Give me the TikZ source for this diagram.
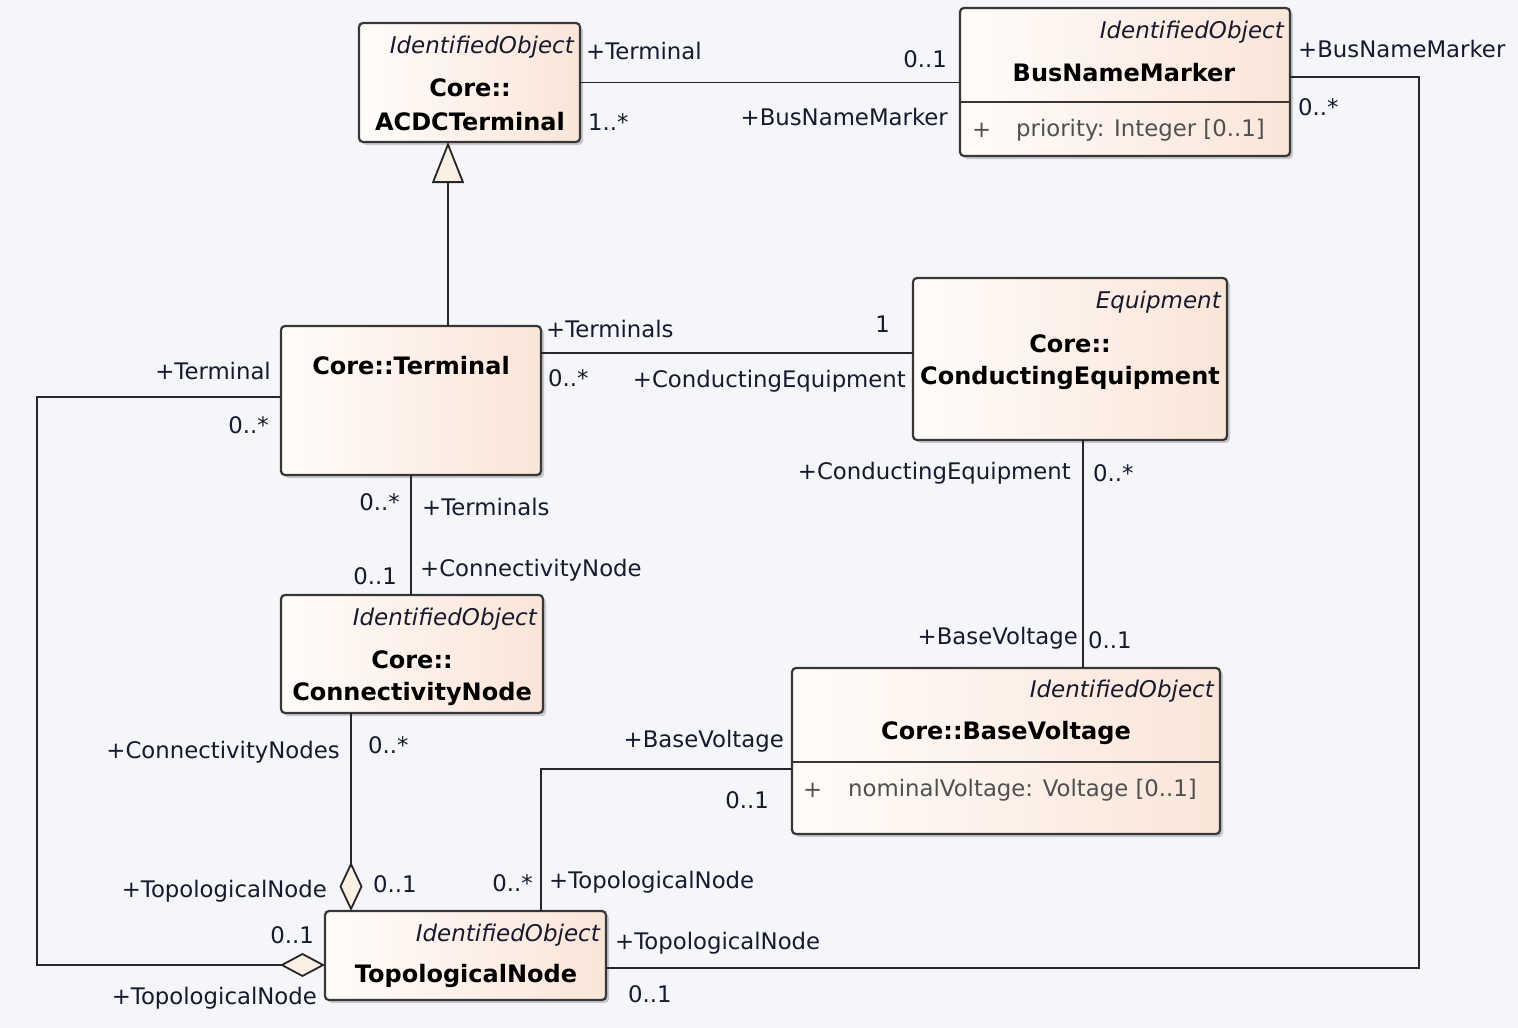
\documentclass[tikz,border=0pt]{standalone}
\usepackage{fontspec}
\setmainfont{DejaVu Sans}
\usetikzlibrary{arrows.meta,shadows,positioning}
\definecolor{bgcol}{RGB}{244,246,250}
\definecolor{boxl}{RGB}{255,252,250}
\definecolor{boxr}{RGB}{250,229,216}
\definecolor{tipfill}{RGB}{252,240,228}
\definecolor{edgecol}{RGB}{55,55,55}
\definecolor{txtcol}{RGB}{25,25,45}
\definecolor{attrcol}{RGB}{80,80,80}
\newcommand{\lblsize}{\fontsize{22.8}{26}\selectfont}
\newcommand{\stsize}{\fontsize{23}{26}\selectfont}
\newcommand{\namesize}{\fontsize{24}{28}\selectfont}

\begin{document}
\begin{tikzpicture}
	[
	x = 1pt, y = -1pt,
	umlbox/.style = {draw=edgecol, line width=2.2pt, rounded corners=4pt, left color=boxl, right color=boxr,
		anchor=north west, inner sep=0pt, outer sep=0pt,
		drop shadow={shadow xshift=3pt, shadow yshift=-3pt, fill=black, opacity=0.18}},
	lbl/.style = {inner sep=0pt, font=\lblsize, text=txtcol},
	stereo/.style = {inner sep=0pt, font=\stsize\itshape, text=txtcol, anchor=east},
	cname/.style = {inner sep=0pt, font=\namesize\bfseries, text=black},
	attr/.style = {inner sep=0pt, font=\lblsize, text=attrcol, anchor=west},
	assoc/.style = {draw=black!85, line width=1.8pt}
	]
		\useasboundingbox[fill=bgcol] (0,0) rectangle (1518,1028);

		% classes
		\node[umlbox, minimum width=221, minimum height=119] (acdc) at (359,23) {};
		\node[umlbox, minimum width=330, minimum height=148] (bnm) at (960,8) {};
		\node[umlbox, minimum width=260, minimum height=149] (term) at (281,326) {};
		\node[umlbox, minimum width=314, minimum height=162] (ce) at (913,278) {};
		\node[umlbox, minimum width=262, minimum height=118] (cn) at (281,595) {};
		\node[umlbox, minimum width=428, minimum height=166] (bv) at (792,668) {};
		\node[umlbox, minimum width=281, minimum height=89] (topo) at (325,911) {};

		\node[stereo] (acdcst) at (574,47) {IdentifiedObject};
		\node[cname] (acdcpk) at (470,88) {Core::};
		\node[cname] (acdcnm) at (470,122) {ACDCTerminal};

		\node[stereo] (bnmst) at (1284,32) {IdentifiedObject};
		\node[cname] (bnmnm) at (1124,73) {BusNameMarker};
		\draw[edgecol, line width=1.7pt] (bnm.west |- 0,102) -- (bnm.east |- 0,102);
		\node[attr] (bnmvis) at (972,130) {+};
		\node[attr] (bnmat) at (1016,130) {priority: Integer [0..1]};

		\node[cname] (termnm) at (411,366) {Core::Terminal};

		\node[stereo] (cest) at (1221,302) {Equipment};
		\node[cname] (cepk) at (1070,344) {Core::};
		\node[cname] (cenm) at (1070,378) {ConductingEquipment};

		\node[stereo] (cnst) at (537,619) {IdentifiedObject};
		\node[cname] (cnpk) at (412,660) {Core::};
		\node[cname] (cnnm) at (412,694) {ConnectivityNode};

		\node[stereo] (bvst) at (1214,691) {IdentifiedObject};
		\node[cname] (bvnm) at (1006,733) {Core::BaseVoltage};
		\draw[edgecol, line width=1.7pt] (bv.west |- 0,762) -- (bv.east |- 0,762);
		\node[attr] (bvvis) at (803,790) {+};
		\node[attr] (bvat) at (848,790) {nominalVoltage: Voltage [0..1]};

		\node[stereo] (topost) at (600,935) {IdentifiedObject};
		\node[cname] (toponm) at (466,976) {TopologicalNode};

		% connectors
		\coordinate (gen) at (448,0);
		\coordinate (tc) at (0,353);
		\coordinate (tcn) at (411,0);
		\coordinate (ceb) at (1083,0);
		\coordinate (cnt) at (351,0);
		\coordinate (bvt) at (541,769);
		\coordinate (tt) at (37,397);
		\coordinate (tb) at (37,965);
		\coordinate (bt) at (1419,77);
		\coordinate (bb) at (1419,968);

		\draw[assoc, -{Triangle[length=41pt, width=32pt, fill=tipfill]}] (gen |- term.north) -- (gen |- acdc.south);
		\draw[assoc] (acdc.east) -- (bnm.west |- acdc.east);
		\draw[assoc] (term.east |- tc) -- (ce.west |- tc);
		\draw[assoc] (tcn |- term.south) -- (tcn |- cn.north);
		\draw[assoc] (ceb |- ce.south) -- (ceb |- bv.north);
		\draw[assoc, {Diamond[length=49pt, width=23pt, fill=tipfill]}-] (cnt |- topo.north) -- (cnt |- cn.south);
		\draw[assoc] (bv.west |- bvt) -- (bvt) -- (bvt |- topo.north);
		\draw[assoc, {Diamond[length=45pt, width=24pt, fill=tipfill]}-] (topo.west |- tb) -- (tb) -- (tt) -- (term.west |- tt);
		\draw[assoc] (bnm.east |- bt) -- (bt) -- (bb) -- (topo.east |- bb);

		% role names and multiplicities
		\node[lbl, anchor=west] (l1) at (586,51) {+Terminal};
		\node[lbl, anchor=west] (l2) at (588,122) {1..*};
		\node[lbl, anchor=east] (l3) at (947,59) {0..1};
		\node[lbl, anchor=east] (l4) at (948,117) {+BusNameMarker};

		\node[lbl, anchor=west] (l5) at (1298,49) {+BusNameMarker};
		\node[lbl, anchor=west] (l6) at (1298,107) {0..*};
		\node[lbl, anchor=west] (l7) at (615,943) {+TopologicalNode};
		\node[lbl, anchor=west] (l8) at (628,994) {0..1};

		\node[lbl, anchor=west] (l9) at (546,329) {+Terminals};
		\node[lbl, anchor=east] (l10) at (890,324) {1};
		\node[lbl, anchor=west] (l11) at (548,378) {0..*};
		\node[lbl, anchor=east] (l12) at (906,381) {+ConductingEquipment};

		\node[lbl, anchor=east] (l13) at (400,502) {0..*};
		\node[lbl, anchor=west] (l14) at (422,507) {+Terminals};
		\node[lbl, anchor=east] (l15) at (397,576) {0..1};
		\node[lbl, anchor=west] (l16) at (420,570) {+ConnectivityNode};

		\node[lbl, anchor=east] (l17) at (1071,473) {+ConductingEquipment};
		\node[lbl, anchor=west] (l18) at (1093,473) {0..*};
		\node[lbl, anchor=east] (l19) at (1078,638) {+BaseVoltage};
		\node[lbl, anchor=west] (l20) at (1088,640) {0..1};

		\node[lbl, anchor=east] (l21) at (340,752) {+ConnectivityNodes};
		\node[lbl, anchor=west] (l22) at (368,745) {0..*};
		\node[lbl, anchor=east] (l23) at (327,891) {+TopologicalNode};
		\node[lbl, anchor=west] (l24) at (373,884) {0..1};

		\node[lbl, anchor=east] (l25) at (784,741) {+BaseVoltage};
		\node[lbl, anchor=east] (l26) at (769,800) {0..1};
		\node[lbl, anchor=east] (l27) at (533,883) {0..*};
		\node[lbl, anchor=west] (l28) at (549,882) {+TopologicalNode};

		\node[lbl, anchor=east] (l29) at (271,371) {+Terminal};
		\node[lbl, anchor=east] (l30) at (269,425) {0..*};
		\node[lbl, anchor=east] (l31) at (314,935) {0..1};
		\node[lbl, anchor=east] (l32) at (317,998) {+TopologicalNode};

	\end{tikzpicture}
\end{document}
